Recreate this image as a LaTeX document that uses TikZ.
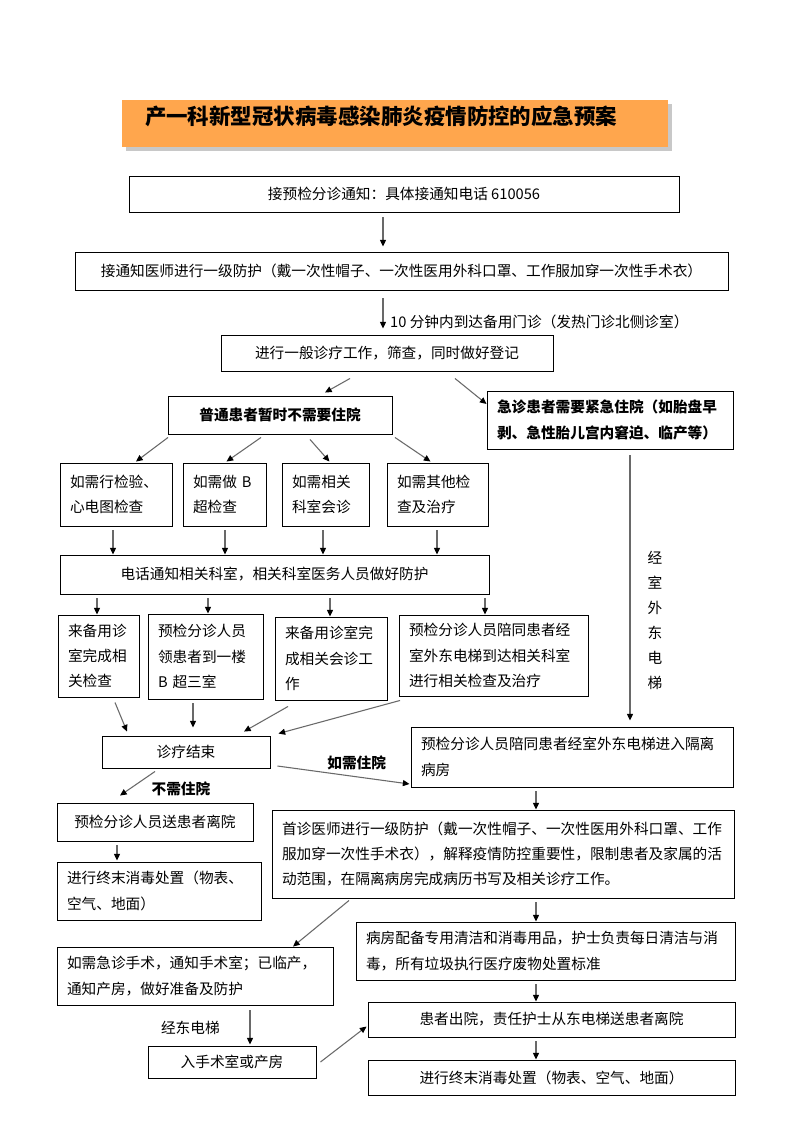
\documentclass[tikz,border=0pt]{standalone}
\usepackage{fontspec}
\setmainfont{Noto Sans CJK SC}
\usetikzlibrary{arrows.meta,calc}
\definecolor{TitleOrange}{RGB}{255,166,77}
\definecolor{ShadowGray}{RGB}{200,200,200}
\definecolor{FlowGray}{RGB}{105,105,105}

\begin{document}
\begin{tikzpicture}[x=0.75pt,y=-0.75pt,
 box/.style={draw=black,line width=0.7pt,inner sep=0pt,font=\fontsize{11}{19}\selectfont},
 boldbox/.style={box,font=\fontsize{11}{19}\selectfont\bfseries},
 sz/.style 2 args={minimum width=#1*0.75pt,minimum height=#2*0.75pt},
 tw/.style={text width=#1*0.75pt,align=left},
 flow/.style={-{Triangle[length=5pt,width=4.5pt,color=black]},line width=0.8pt,draw=FlowGray},
 tag/.style={font=\fontsize{11}{19}\selectfont\bfseries,inner sep=2pt}]
\fill[white] (0,0) rectangle (793,1122);
\useasboundingbox (0,0) rectangle (793,1122);

% title
\fill[ShadowGray] (126,104) rectangle (672,151);
\node[fill=TitleOrange,inner sep=0pt,sz={546}{47},tw={500},text height=12pt,text depth=10pt,
 font=\fontsize{16.1}{20}\selectfont\bfseries] (title) at (395,123.5) {产一科新型冠状病毒感染肺炎疫情防控的应急预案};

% main column
\node[box,sz={550}{36}] (notice) at (404,194) {接预检分诊通知：具体接通知电话 610056};
\node[box,sz={653}{38}] (protect) at (401.5,271) {接通知医师进行一级防护（戴一次性帽子、一次性医用外科口罩、工作服加穿一次性手术衣）};
\node[box,sz={332}{36}] (screen) at (387,353) {进行一般诊疗工作，筛查，同时做好登记};
\node[boldbox,sz={224}{38}] (ordinary) at (280,415) {普通患者暂时不需要住院};
\node[boldbox,sz={246}{58},tw={226}] (urgent) at (610,420) {急诊患者需要紧急住院（如胎盘早\\剥、急性胎儿宫内窘迫、临产等）};

% checks
\node[box,sz={112}{63},tw={92}] (lab) at (116,494.5) {如需行检验、\\心电图检查};
\node[box,sz={83}{63},tw={63}] (bscan) at (224.5,494.5) {如需做 B\\超检查};
\node[box,sz={87}{63},tw={67}] (consult) at (325.5,494.5) {如需相关\\科室会诊};
\node[box,sz={101}{63},tw={81}] (other) at (437.5,494.5) {如需其他检\\查及治疗};
\node[box,sz={429}{39}] (phone) at (274.5,574.5) {电话通知相关科室，相关科室医务人员做好防护};
\node[box,sz={81}{82},tw={61}] (labdone) at (98.5,656) {来备用诊\\室完成相\\关检查};
\node[box,sz={115}{85},tw={95}] (bguide) at (205.5,656.5) {预检分诊人员\\领患者到一楼\\B 超三室};
\node[box,sz={112}{83},tw={92}] (consdone) at (331,658.5) {来备用诊室完\\成相关会诊工\\作};
\node[box,sz={189}{81},tw={169}] (escort) at (493.5,655.5) {预检分诊人员陪同患者经\\室外东电梯到达相关科室\\进行相关检查及治疗};
\node[box,sz={168}{32}] (finish) at (186,752) {诊疗结束};

% after treatment
\node[box,sz={322}{60},tw={302}] (isolate) at (572,757) {预检分诊人员陪同患者经室外东电梯进入隔离\\病房};
\node[box,sz={196}{38}] (discharge) at (155,822) {预检分诊人员送患者离院};
\node[box,sz={204}{58},tw={184}] (clean) at (159,891) {进行终末消毒处置（物表、\\空气、地面）};
\node[box,sz={462}{88},tw={442}] (firstdoc) at (503,854) {首诊医师进行一级防护（戴一次性帽子、一次性医用外科口罩、工作\\服加穿一次性手术衣），解释疫情防控重要性，限制患者及家属的活\\动范围，在隔离病房完成病历书写及相关诊疗工作。};
\node[box,sz={276}{58},tw={256}] (surgery) at (195,976) {如需急诊手术，通知手术室；已临产，\\通知产房，做好准备及防护};
\node[box,sz={379}{58},tw={359}] (supply) at (545.5,951) {病房配备专用清洁和消毒用品，护士负责每日清洁与消\\毒，所有垃圾执行医疗废物处置标准};
\node[box,sz={367}{35}] (leave) at (551.5,1019.5) {患者出院，责任护士从东电梯送患者离院};
\node[box,sz={168}{32}] (theatre) at (232,1062) {入手术室或产房};
\node[box,sz={367}{35}] (final) at (551.5,1077.5) {进行终末消毒处置（物表、空气、地面）};
\node[font=\fontsize{11}{18.75}\selectfont,align=center,inner sep=0pt] (lift) at (655,620) {经\\室\\外\\东\\电\\梯};

% connectors
\draw[flow] ($(notice.south)+(-21,5)$) -- ($(protect.north)+(-18.5,-5)$);
\draw[flow] ($(protect.south)+(-18.5,8)$) -- node[pos=.78,anchor=west,xshift=2pt,inner sep=3pt,font=\fontsize{11}{19}\selectfont]
 {10 分钟内到达备用门诊（发热门诊北侧诊室）} ($(screen.north)+(-4,-6)$);
\draw[flow] ($(screen.south)+(-37,7)$) -- ($(ordinary.north)+(45,-3)$);
\draw[flow] ($(screen.south)+(68,7)$) -- ($(urgent.west)+(0,-16)$);
\draw[flow] ($(ordinary.south)+(-112,3)$) -- ($(lab.north)+(20,-1)$);
\draw[flow] ($(ordinary.south)+(-19,3)$) -- ($(bscan.north)+(2,-1)$);
\draw[flow] ($(ordinary.south)+(30,5)$) -- ($(consult.north)+(4,-1)$);
\draw[flow] ($(ordinary.south)+(115,3)$) -- ($(other.north)+(-7,-1)$);
\draw[flow] ($(lab.south)+(-3,4)$) -- ($(phone.north)+(-161.5,0)$);
\draw[flow] ($(bscan.south)+(0.5,4)$) -- ($(phone.north)+(-49.5,0)$);
\draw[flow] ($(consult.south)+(-2.5,4)$) -- ($(phone.north)+(48.5,0)$);
\draw[flow] ($(other.south)+(-0.5,4)$) -- ($(phone.north)+(162.5,0)$);
\draw[flow] ($(phone.south)+(-177.5,4)$) -- ($(labdone.north)+(-1.5,0)$);
\draw[flow] ($(phone.south)+(-66.5,4)$) -- ($(bguide.north)+(2.5,0)$);
\draw[flow] ($(phone.south)+(55.5,4)$) -- ($(consdone.north)+(-1,0)$);
\draw[flow] ($(phone.south)+(210.5,4)$) -- ($(escort.north)+(-8.5,0)$);
\draw[flow] ($(labdone.south)+(16.5,5)$) -- ($(finish.north)+(-59,-4)$);
\draw[flow] ($(bguide.south)+(-12.5,4)$) -- ($(finish.north)+(7,-8)$);
\draw[flow] ($(consdone.south)+(-43,6)$) -- ($(finish.north)+(58,-4)$);
\draw[flow] ($(escort.south)+(-93.5,4)$) -- ($(finish.north east)+(8,-2)$);
\draw[flow] ($(urgent.south)+(20,6)$) -- ($(isolate.north)+(58,-6)$);
\draw[flow] ($(finish.east)+(7,14)$) -- node[tag,pos=.6,yshift=10.5pt] {如需住院} ($(isolate.west)+(-1,27)$);
\draw[flow] ($(finish.south)+(-31,3)$) -- node[tag,pos=.5,xshift=32.6pt,yshift=-4pt] {不需住院} ($(discharge.north)+(-35,-7)$);
\draw[flow] ($(discharge.south)+(-38,4)$) -- ($(clean.north)+(-42,-1)$);
\draw[flow] ($(isolate.south)+(-36,4)$) -- ($(firstdoc.north)+(33,0)$);
\draw[flow] ($(firstdoc.south)+(33,4)$) -- ($(supply.north)+(-9.5,0)$);
\draw[flow] ($(supply.south)+(-9.5,4)$) -- ($(leave.north)+(-15.5,0)$);
\draw[flow] ($(leave.south)+(-15.5,4)$) -- ($(final.north)+(-15.5,0)$);
\draw[flow] ($(firstdoc.south)+(-154,2)$) -- ($(surgery.north)+(98,0)$);
\draw[flow] ($(surgery.south)+(55,5)$) -- node[left=19pt,font=\fontsize{11}{19}\selectfont] {经东电梯} ($(theatre.north)+(18,-1)$);
\draw[flow] ($(theatre.east)+(4,0)$) -- ($(leave.west)+(-1,7)$);
\end{tikzpicture}
\end{document}
